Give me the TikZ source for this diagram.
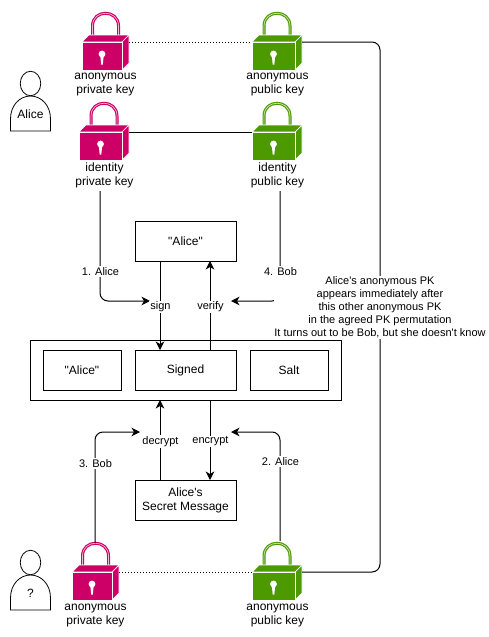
\documentclass[tikz,border=0pt]{standalone}
\usepackage{fontspec}
\usetikzlibrary{arrows.meta,shapes.geometric}
\newfontfamily\diagramfont{Liberation Sans}
\definecolor{privpink}{HTML}{CC0066}
\definecolor{pubgreen}{HTML}{4D9900}
\tikzset{
  plainbox/.style={draw, line width=1pt, fill=white, inner sep=0pt, font=\diagramfont\fontsize{12}{14}\selectfont, align=center},
  keylabel/.style={inner sep=0pt, font=\diagramfont\fontsize{12}{14}\selectfont, align=center},
  edgelabel/.style={fill=white, inner sep=1pt, font=\diagramfont\fontsize{11}{13}\selectfont, align=center},
  conn/.style={line width=1pt, rounded corners=8pt},
  connarrow/.style={conn, -{Stealth[length=8.5pt,width=8.5pt,inset=2.5pt]}},
  lockbox/.style={inner sep=0pt, minimum height=56pt}
}
\newcommand{\lockicon}[5]{
\pgfmathsetmacro{\lockw}{#3}
\pgfmathsetmacro{\lockmid}{#3/2}
\pgfmathsetmacro{\lockl}{#3/2-9.5}
\pgfmathsetmacro{\lockr}{#3/2+16.5}
\pgfmathsetmacro{\lockx}{#2+#3/2+3.5}
\node[lockbox, minimum width=#3pt+7pt] (#1) at (\lockx,#4){};
\begin{scope}[shift={(#2,#4)}]
\draw[#5, line width=3pt] (\lockl,-6) -- (\lockl,-16) .. controls (\lockl,-33) and (\lockr,-33) .. (\lockr,-16) -- (\lockr,-6);
\draw[#5!25, line width=0.7pt] (\lockl,-6) -- (\lockl,-16) .. controls (\lockl,-33) and (\lockr,-33) .. (\lockr,-16) -- (\lockr,-6);
\fill[#5, draw=white, line width=0.7pt] (0,0) -- (7,-7) -- (\lockw+7,-7) -- (\lockw,0) -- cycle;
\fill[#5, draw=white, line width=0.7pt] (\lockw,0) -- (\lockw+7,-7) -- (\lockw+7,21) -- (\lockw,28) -- cycle;
\fill[#5, draw=white, line width=0.7pt] (0,0) rectangle (\lockw,28);
\fill[white] (\lockmid,12) circle (3.4pt);
\fill[white] (\lockmid-1.8,13) -- (\lockmid+1.8,13) -- (\lockmid+0.8,22.5) -- (\lockmid-0.8,22.5) -- cycle;
\end{scope}
}
\newcommand{\personicon}[3]{
\begin{scope}[yshift=-#2pt]
\draw[line width=0.8pt, fill=white] (10.5,131) -- (10.5,119) .. controls (10.5,105) and (20,96) .. (30.5,96) .. controls (41,96) and (50.5,105) .. (50.5,119) -- (50.5,131) -- cycle;
\node[draw, ellipse, line width=0.8pt, fill=white, inner sep=0pt, minimum width=20.5pt, minimum height=24.5pt] (#1head) at (30.5,83.5){};
\node[keylabel] (#1) at (30.5,114){#3};
\end{scope}
}
\begin{document}
\begin{tikzpicture}[x=1pt, y=-1pt]
\useasboundingbox (0,0) rectangle (488,637);
\fill[white] (0,0) rectangle (488,637);

\personicon{alice}{0}{Alice}
\personicon{unknown}{479}{?}

\lockicon{anonprivtop}{82}{40}{42}{privpink}
\lockicon{anonpubtop}{252}{43}{42}{pubgreen}
\lockicon{idpriv}{79}{43}{132}{privpink}
\lockicon{idpub}{252}{43}{132}{pubgreen}
\lockicon{anonprivbot}{72}{40}{572}{privpink}
\lockicon{anonpubbot}{252}{43}{572}{pubgreen}

\node[keylabel] (anonprivtoplbl) at (105.5,85){anonymous\\private key};
\node[keylabel] (anonpubtoplbl) at (277.5,85){anonymous\\public key};
\node[keylabel] (idprivlbl) at (104.5,175.5){identity\\private key};
\node[keylabel] (idpublbl) at (277.5,175.5){identity\\public key};
\node[keylabel] (anonprivbotlbl) at (95.5,616){anonymous\\private key};
\node[keylabel] (anonpubbotlbl) at (277.5,616){anonymous\\public key};

\node[plainbox, minimum width=311pt, minimum height=60pt] (envelope) at (185.5,370){};
\node[plainbox, minimum width=78pt, minimum height=40pt] (nameinner) at (82,370){"Alice"};
\node[plainbox, minimum width=101pt, minimum height=40pt] (signed) at (185.5,370){Signed};
\node[plainbox, minimum width=78pt, minimum height=40pt] (salt) at (289,370){Salt};
\node[plainbox, minimum width=101pt, minimum height=40pt] (nametop) at (185.5,241){"Alice"};
\node[plainbox, minimum width=101pt, minimum height=40pt] (secret) at (185.5,500){Alice's\\Secret Message};

\coordinate (idprivout) at (100,191);
\coordinate (idpubout) at (280,191);
\coordinate (signin) at (150,301);
\coordinate (verifyin) at (231,301);
\coordinate (nametopsign) at (160,261);
\coordinate (nametopverify) at (210,261);
\coordinate (signedsign) at (160,350);
\coordinate (signedverify) at (210,350);
\coordinate (envdecrypt) at (160,400);
\coordinate (envencrypt) at (210,400);
\coordinate (secretdecrypt) at (160,480);
\coordinate (secretencrypt) at (210,480);
\coordinate (privbotout) at (95,543);
\coordinate (pubbotout) at (280,541);
\coordinate (decryptin) at (140,432);
\coordinate (encryptin) at (231,432);
\coordinate (pubturn) at (380,42);

\draw[line width=1pt, dotted] (anonprivtop) -- (anonpubtop);
\draw[line width=1pt, dotted] (anonprivbot) -- (anonpubbot);
\draw[line width=1pt] (idpriv) -- (idpub);
\draw[conn] (anonpubtop) -- (pubturn) |- (anonpubbot);

\draw[connarrow] (idprivout) |- (signin);
\draw[connarrow] (idpubout) |- (verifyin);
\draw[connarrow] (nametopsign) -- (signedsign);
\draw[connarrow] (signedverify) -- (nametopverify);
\draw[connarrow] (secretdecrypt) -- (envdecrypt);
\draw[connarrow] (envencrypt) -- (secretencrypt);
\draw[connarrow] (privbotout) |- (decryptin);
\draw[connarrow] (pubbotout) |- (encryptin);

\node[edgelabel] (aliceone) at (100.5,271.5){1. Alice};
\node[edgelabel] (bobfour) at (280.5,271.5){4. Bob};
\node[edgelabel] (signlbl) at (160.5,307){sign};
\node[edgelabel] (verifylbl) at (210.5,307){verify};
\node[edgelabel] (decryptlbl) at (160.5,441.5){decrypt};
\node[edgelabel] (encryptlbl) at (210.5,441.5){encrypt};
\node[edgelabel] (bobthree) at (95.5,463.5){3. Bob};
\node[edgelabel] (alicetwo) at (280.5,461.5){2. Alice};
\node[edgelabel, inner sep=0.5pt] (permnote) at (380,307.5){Alice's anonymous PK\\appears immediately after\\this other anonymous PK\\in the agreed PK permutation\\It turns out to be Bob, but she doesn't know};
\end{tikzpicture}
\end{document}
